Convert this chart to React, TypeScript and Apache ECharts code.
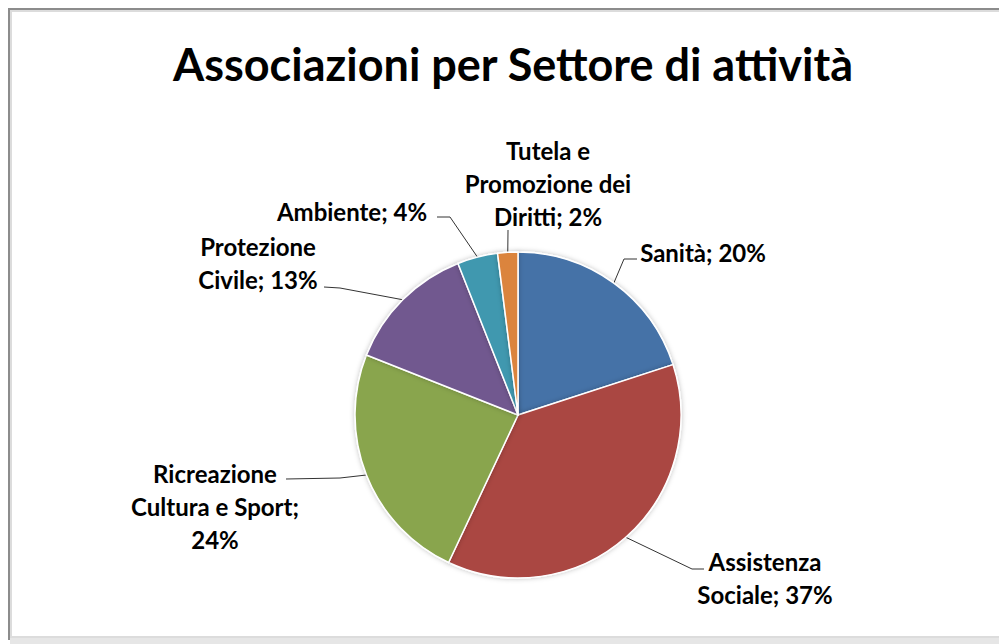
import React, { useEffect, useRef } from "react";
import * as echarts from "echarts";

const categories = [
  "Sanità",
  "Assistenza Sociale",
  "Ricreazione Cultura e Sport",
  "Protezione Civile",
  "Ambiente",
  "Tutela e Promozione dei Diritti",
];
const values = [20, 37, 24, 13, 4, 2];
const labelNames = [
  "Sanità",
  "Assistenza\nSociale",
  "Ricreazione\nCultura e Sport",
  "Protezione\nCivile",
  "Ambiente",
  "Tutela e\nPromozione dei\nDiritti",
];
const labelSeparators = [" ", " ", "\n", " ", " ", " "];
const colors = ["#4572A7", "#AA4643", "#89A54E", "#71588F", "#4198AF", "#DB843D"];

// label layout: text anchor (center) and label line elbow / end points
const labelAnchors = [
  [703, 252],
  [765, 578],
  [215, 506],
  [258, 263],
  [352, 211],
  [548, 183],
];
const labelElbows = [
  [[624, 259], [637, 259]],
  [[692, 569], [704, 569]],
  [[340, 478], [286, 479]],
  [[340, 288], [324, 287]],
  [[450, 217], [437, 217]],
  [[508, 231], [508, 230]],
];

const CENTER = [518, 415];
const RADIUS = 163;

export default function App() {
  const ref = useRef<HTMLDivElement>(null);
  useEffect(() => {
    if (!ref.current) return;
    const chart = echarts.init(ref.current, null, { renderer: "svg" });
    const total = values.reduce((a, b) => a + b, 0);
    const edgePoint = (i: number) => {
      let cum = 0;
      for (let k = 0; k < i; k++) cum += values[k];
      const mid = ((cum + values[i] / 2) / total) * Math.PI * 2;
      return [CENTER[0] + RADIUS * Math.sin(mid), CENTER[1] - RADIUS * Math.cos(mid)];
    };
    const font = "Lato, 'Open Sans', sans-serif";
    chart.setOption({
      animation: false,
      backgroundColor: "#ffffff",
      title: {
        text: "Associazioni per Settore di attività",
        left: 508,
        textAlign: "center",
        top: 36,
        textStyle: { fontFamily: font, fontSize: 45, fontWeight: "bold", color: "#000" },
      },
      graphic: [
        {
          type: "rect",
          shape: { x: 9, y: 9, width: 1000, height: 630 },
          style: { fill: "none", stroke: "#8c8c8c", lineWidth: 2 },
          z: 10,
        },
        {
          type: "rect",
          shape: { x: 11, y: 11, width: 1000, height: 626 },
          style: { fill: "none", stroke: "#dcdcdc", lineWidth: 2 },
          z: 10,
        },
        {
          type: "rect",
          shape: { x: 10, y: 638, width: 1000, height: 6 },
          style: { fill: "#e6e6e6" },
          z: 10,
        },
      ],
      series: [
        {
          type: "pie",
          center: CENTER,
          radius: RADIUS,
          startAngle: 90,
          clockwise: true,
          data: categories.map((name, i) => ({
            name,
            value: values[i],
            itemStyle: { color: colors[i] },
          })),
          itemStyle: {
            borderColor: "#ffffff",
            borderWidth: 1.5,
            shadowBlur: 5,
            shadowColor: "rgba(0,0,0,0.25)",
          },
          label: {
            show: true,
            position: "outside",
            formatter: (p: any) =>
              `${labelNames[p.dataIndex]};${labelSeparators[p.dataIndex]}${Math.round(p.percent)}%`,
            fontFamily: font,
            fontSize: 24,
            fontWeight: "bold",
            color: "#000",
            lineHeight: 33,
            align: "center",
          },
          labelLine: {
            show: true,
            length: 10,
            length2: 10,
            lineStyle: { color: "#333", width: 1 },
          },
          labelLayout: (params: any) => {
            const i = params.dataIndex;
            const start = edgePoint(i);
            return {
              x: labelAnchors[i][0],
              y: labelAnchors[i][1],
              align: "center",
              verticalAlign: "middle",
              labelLinePoints: [start, labelElbows[i][0], labelElbows[i][1]],
            };
          },
          emphasis: { disabled: true },
        },
      ],
    });
    return () => chart.dispose();
  }, []);
  return (
    <div
      ref={ref}
      style={{ position: "absolute", left: 0, top: 0, width: 999, height: 644 }}
    />
  );
}
